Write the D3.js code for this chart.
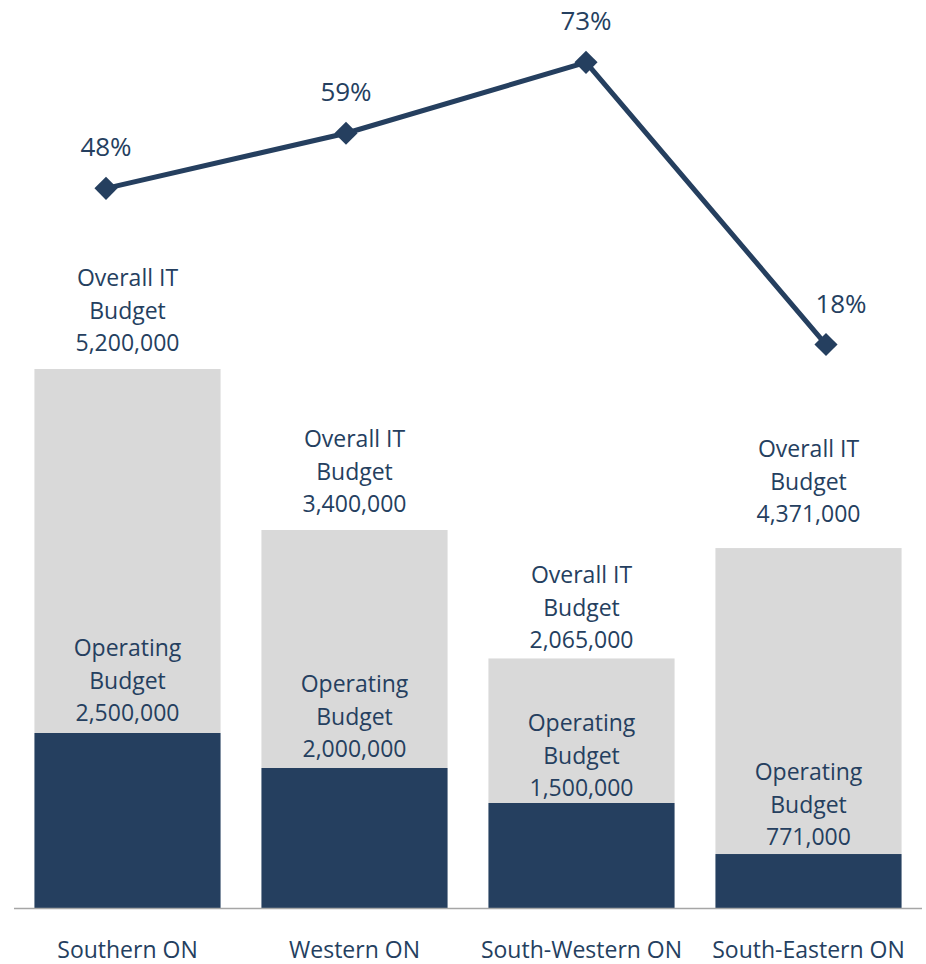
<!DOCTYPE html>
<html>
<head>
<meta charset="utf-8">
<script src="https://cdn.jsdelivr.net/npm/d3@7"></script>
<style>
  body { margin: 0; background: #fff; }
  text { font-family: "Open Sans", "Noto Sans", sans-serif; fill: #253F5F; }
</style>
</head>
<body>
<svg id="chart"></svg>
<script>
// data
const regions = ["Southern ON", "Western ON", "South-Western ON", "South-Eastern ON"];
const operating = [2500000, 2000000, 1500000, 771000];
const overall = [5200000, 3400000, 2065000, 4371000];
const share = [0.4808, 0.5882, 0.7264, 0.1764];

// label nudges (px), the original text boxes were placed by hand
const overallNudge = [0, 0, 8, -8];
const operatingNudge = [0, 1, 5, 3];
const pctNudgeX = [0, 0, 0, 15];

const W = 926, H = 964;
const navy = "#253F5F", grey = "#D9D9D9";

const svg = d3.select("#chart").attr("width", W).attr("height", H);

const x = d3.scaleBand().domain(regions).range([14, 922]).paddingInner(0.18).paddingOuter(0.09);
// bars are stacked: operating on bottom, overall on top
const y = d3.scaleLinear().domain([0, 1e6]).range([908, 838]);
// secondary axis for the line
const x2 = d3.scalePoint().domain(regions).range([106, 826]);
const y2 = d3.scaleLinear().domain([0, 1]).range([435, -78]);

const fmt = d3.format(",");
const rows = regions.map((r, i) => ({r, i, op: operating[i], all: overall[i], p: share[i]}));

// grey (overall) part
svg.append("g").selectAll("rect").data(rows).join("rect")
  .attr("x", d => x(d.r)).attr("width", x.bandwidth())
  .attr("y", d => y(d.op + d.all)).attr("height", d => y(d.op) - y(d.op + d.all))
  .attr("fill", grey);

// dark (operating) part
svg.append("g").selectAll("rect").data(rows).join("rect")
  .attr("x", d => x(d.r)).attr("width", x.bandwidth())
  .attr("y", d => y(d.op)).attr("height", d => y(0) - y(d.op))
  .attr("fill", navy);

// axis baseline
svg.append("line").attr("x1", 14).attr("x2", 922).attr("y1", y(0) + 0.5).attr("y2", y(0) + 0.5)
  .attr("stroke", "#A6A6A6").attr("stroke-width", 1.5);

const fs = 23, lh = 32.5;

function block(g, lines, cx, bottom) {
  const t = g.append("text").attr("text-anchor", "middle").attr("font-size", fs);
  lines.forEach((s, k) => {
    t.append("tspan").attr("x", cx).attr("y", bottom - (lines.length - 1 - k) * lh).text(s);
  });
}

const labels = svg.append("g");
rows.forEach(d => {
  const cx = x(d.r) + x.bandwidth() / 2;
  block(labels, ["Overall IT", "Budget", fmt(d.all)], cx, y(d.op + d.all) - 18 + overallNudge[d.i]);
  block(labels, ["Operating", "Budget", fmt(d.op)], cx, y(d.op) - 12 + operatingNudge[d.i]);
  labels.append("text").attr("text-anchor", "middle").attr("font-size", fs)
    .attr("x", cx).attr("y", 958).text(d.r);
});

// line
svg.append("path").datum(rows)
  .attr("fill", "none").attr("stroke", navy).attr("stroke-width", 5)
  .attr("d", d3.line().x(d => x2(d.r)).y(d => y2(d.p)));

svg.append("g").selectAll("path").data(rows).join("path")
  .attr("d", d3.symbol(d3.symbolDiamond2, 340))
  .attr("transform", d => `translate(${x2(d.r)},${y2(d.p)})`)
  .attr("fill", navy);

svg.append("g").selectAll("text").data(rows).join("text")
  .attr("text-anchor", "middle").attr("font-size", 26)
  .attr("x", d => x2(d.r) + pctNudgeX[d.i]).attr("y", d => y2(d.p) - 32)
  .text(d => d3.format(".0%")(d.p));
</script>
</body>
</html>
